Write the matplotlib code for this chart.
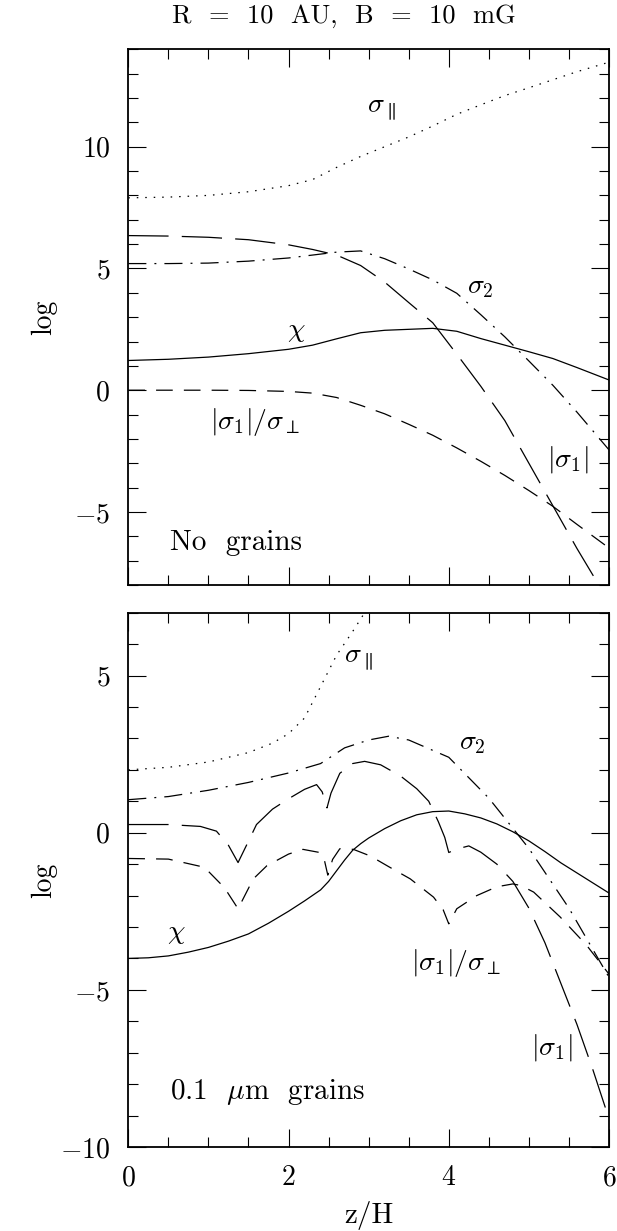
import matplotlib
matplotlib.use("Agg")
import matplotlib.pyplot as plt
from matplotlib.ticker import MultipleLocator, FuncFormatter

plt.rcParams["font.family"] = "cmr10"
plt.rcParams["mathtext.fontset"] = "cm"
plt.rcParams["lines.scale_dashes"] = False
plt.rcParams["axes.linewidth"] = 1.3

# ---------------- top panel: no grains ----------------
z_top = [0, 0.5, 1.0, 1.5, 2.0, 2.3, 2.6, 2.9, 3.2, 3.5, 3.8, 4.1, 4.4, 4.7, 5.0, 5.3, 5.6, 6.0]
sig_par_top = [7.9, 7.93, 8.0, 8.15, 8.4, 8.65, 9.15, 9.6, 10.0, 10.4, 10.85, 11.33, 11.72, 12.1, 12.42, 12.75, 13.08, 13.47]
chi_top = [1.22, 1.27, 1.36, 1.5, 1.68, 1.85, 2.11, 2.36, 2.46, 2.5, 2.54, 2.42, 2.12, 1.85, 1.58, 1.3, 0.93, 0.42]
sig2_top = [5.2, 5.2, 5.22, 5.3, 5.43, 5.55, 5.67, 5.72, 5.4, 4.98, 4.53, 3.98, 3.1, 2.19, 1.2, 0.2, -0.9, -2.45]
sig1_top = [6.35, 6.33, 6.28, 6.18, 5.97, 5.78, 5.55, 5.12, 4.44, 3.6, 2.77, 1.48, 0.16, -1.25, -3.0, -4.75, -6.5, -8.7]
ratio_top = [0.0, 0.0, 0.0, -0.01, -0.05, -0.12, -0.3, -0.62, -0.97, -1.4, -1.85, -2.37, -2.92, -3.5, -4.12, -4.77, -5.51, -6.48]

# ---------------- bottom panel: 0.1 micron grains ----------------
z_par_bot = [0, 0.5, 1.0, 1.5, 1.8, 2.0, 2.2, 2.4, 2.6, 2.8, 3.0]
sig_par_bot = [2.0, 2.08, 2.25, 2.55, 2.85, 3.15, 3.65, 4.65, 5.65, 6.4, 7.2]

z_sig2_bot = [0, 0.5, 1.0, 1.5, 2.0, 2.4, 2.7, 3.0, 3.25, 3.5, 4.0, 4.5, 5.0, 5.5, 6.0]
sig2_bot = [1.05, 1.15, 1.35, 1.6, 1.9, 2.2, 2.7, 2.95, 3.07, 2.95, 2.4, 1.1, -0.5, -2.4, -4.6]

z_sig1_bot = [0, 0.5, 0.9, 1.1, 1.25, 1.37, 1.5, 1.6, 1.8, 2.0, 2.2, 2.35, 2.42, 2.48, 2.53,
              2.64, 2.8, 2.95, 3.15, 3.4, 3.6, 3.75, 3.87, 3.95, 4.0, 4.1, 4.25, 4.4, 4.6,
              4.8, 5.0, 5.2, 5.4, 5.6, 5.8, 6.0]
sig1_bot = [0.26, 0.26, 0.2, 0.05, -0.4, -0.95, -0.27, 0.26, 0.75, 1.08, 1.38, 1.53, 1.3, 0.79, 1.26,
            1.89, 2.2, 2.27, 2.16, 1.8, 1.4, 1.0, 0.35, -0.15, -0.63, -0.52, -0.42, -0.62, -1.0,
            -1.55, -2.4, -3.5, -4.8, -6.1, -7.55, -9.1]

z_ratio_bot = [0, 0.5, 0.95, 1.2, 1.37, 1.56, 1.73, 2.0, 2.18, 2.39, 2.45, 2.49, 2.55, 2.64, 2.81,
               3.02, 3.25, 3.52, 3.81, 3.93, 4.0, 4.1, 4.35, 4.6, 4.8, 4.9, 5.06, 5.39, 5.72, 6.0]
ratio_bot = [-0.82, -0.84, -1.1, -1.75, -2.42, -1.47, -1.05, -0.68, -0.53, -0.63, -0.9, -1.35, -0.85, -0.51, -0.53,
             -0.74, -1.08, -1.47, -2.05, -2.45, -2.9, -2.42, -2.0, -1.72, -1.63, -1.68, -1.89, -2.68, -3.58, -4.5]

z_chi_bot = [0, 0.25, 0.5, 0.75, 1.0, 1.25, 1.5, 1.75, 2.0, 2.2, 2.4, 2.5, 2.6, 2.7, 2.8, 2.9,
             3.0, 3.2, 3.4, 3.6, 3.8, 4.0, 4.2, 4.4, 4.6, 4.8, 5.0, 5.2, 5.4, 5.6, 5.8, 6.0]
chi_bot = [-4.0, -3.98, -3.92, -3.8, -3.65, -3.45, -3.22, -2.88, -2.5, -2.17, -1.82, -1.55, -1.21, -0.87,
           -0.56, -0.35, -0.17, 0.13, 0.38, 0.57, 0.67, 0.69, 0.6, 0.47, 0.28, 0.03, -0.26, -0.6,
           -0.96, -1.28, -1.6, -1.92]

# line styles (dash patterns in points)
LW = 0.9
DOT = (0, (1.1, 5.0))
LONG = (0, (29.0, 9.5))
SHORT = (0, (12.0, 8.0))
DASHDOT = (0, (13.0, 5.8, 1.4, 5.8))

FS = 20

W, H = 617, 1231
fig = plt.figure(figsize=(W / 100, H / 100), dpi=100)

left, right = 128.3, 609.0
ax1 = fig.add_axes([left / W, 1 - 585 / H, (right - left) / W, (585 - 49.3) / H])
ax2 = fig.add_axes([left / W, 1 - 1147 / H, (right - left) / W, (1147 - 612.7) / H])


def math_tick(v, pos):
    return r"$%d$" % int(round(v)) if v >= 0 else r"$-%d$" % int(round(-v))


for ax, ylim in ((ax1, (-8, 14)), (ax2, (-10, 7))):
    ax.set_xlim(0, 6)
    ax.set_ylim(*ylim)
    ax.xaxis.set_major_locator(MultipleLocator(2))
    ax.xaxis.set_minor_locator(MultipleLocator(0.5))
    ax.yaxis.set_major_locator(MultipleLocator(5))
    ax.yaxis.set_minor_locator(MultipleLocator(1))
    ax.tick_params(which="both", direction="in", top=True, right=True, width=0.8,
                   labelsize=FS, pad=13)
    ax.tick_params(which="major", length=13)
    ax.tick_params(which="minor", length=7.2)
    ax.xaxis.set_major_formatter(FuncFormatter(math_tick))
    ax.yaxis.set_major_formatter(FuncFormatter(math_tick))

ax1.tick_params(labelbottom=False)

# top panel curves
ax1.plot(z_top, sig_par_top, color="k", lw=LW, linestyle=DOT)
ax1.plot(z_top, chi_top, color="k", lw=LW, linestyle="-")
ax1.plot(z_top, sig2_top, color="k", lw=LW, linestyle=DASHDOT)
ax1.plot(z_top, sig1_top, color="k", lw=LW, linestyle=LONG)
ax1.plot(z_top, ratio_top, color="k", lw=LW, linestyle=SHORT)

ax1.text(3.16, 11.52, r"$\sigma_\parallel$", fontsize=FS, ha="center", va="center")
ax1.text(4.39, 4.24, r"$\sigma_2$", fontsize=FS, ha="center", va="center")
ax1.text(2.1, 2.43, r"$\chi$", fontsize=FS, ha="center", va="center")
ax1.text(1.58, -1.30, r"$|\sigma_1|/\sigma_\perp$", fontsize=FS, ha="center", va="center")
ax1.text(5.48, -2.86, r"$|\sigma_1|$", fontsize=FS, ha="center", va="center")
ax1.text(0.52, -6.58, "No  grains", fontsize=21, ha="left", va="baseline")

# bottom panel curves
ax2.plot(z_par_bot, sig_par_bot, color="k", lw=LW, linestyle=DOT)
ax2.plot(z_chi_bot, chi_bot, color="k", lw=LW, linestyle="-")
ax2.plot(z_sig2_bot, sig2_bot, color="k", lw=LW, linestyle=DASHDOT)
ax2.plot(z_sig1_bot, sig1_bot, color="k", lw=LW, linestyle=LONG)
ax2.plot(z_ratio_bot, ratio_bot, color="k", lw=LW, linestyle=SHORT)

ax2.text(2.87, 5.49, r"$\sigma_\parallel$", fontsize=FS, ha="center", va="center")
ax2.text(4.29, 2.85, r"$\sigma_2$", fontsize=FS, ha="center", va="center")
ax2.text(0.6, -3.18, r"$\chi$", fontsize=FS, ha="center", va="center")
ax2.text(4.09, -4.16, r"$|\sigma_1|/\sigma_\perp$", fontsize=FS, ha="center", va="center")
ax2.text(5.28, -6.84, r"$|\sigma_1|$", fontsize=FS, ha="center", va="center")
ax2.text(0.52, -8.47, r"0.1  $\mu$m  grains", fontsize=21, ha="left", va="baseline")

# axis labels and title
fig.text(44 / W, 1 - 317 / H, "log", rotation=90, fontsize=FS, ha="center", va="center")
fig.text(44 / W, 1 - 880 / H, "log", rotation=90, fontsize=FS, ha="center", va="center")
fig.text(368.7 / W, 1 - 1215 / H, "z/H", fontsize=21, ha="center", va="center")
fig.text(344 / W, 1 - 16 / H, "R  =  10  AU,  B  =  10  mG", fontsize=19, ha="center", va="center")

fig.savefig("out.png", dpi=100)
